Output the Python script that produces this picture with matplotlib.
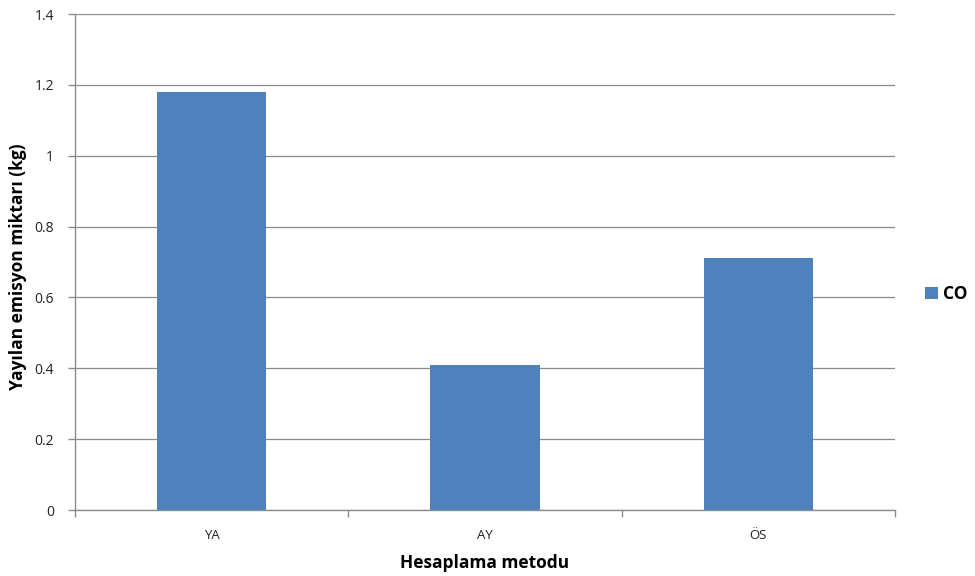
import matplotlib
matplotlib.use("Agg")
import matplotlib.pyplot as plt
import numpy as np

categories = ["YA", "AY", "ÖS"]
co_values = [1.18, 0.41, 0.71]
y_ticks = [0, 0.2, 0.4, 0.6, 0.8, 1, 1.2, 1.4]
y_tick_labels = ["0", "0.2", "0.4", "0.6", "0.8", "1", "1.2", "1.4"]

plt.rcParams["font.family"] = ["Open Sans", "DejaVu Sans"]

fig = plt.figure(figsize=(9.75, 5.76), dpi=100)
ax = fig.add_axes([75 / 975, 66 / 576, 820 / 975, 496 / 576])

x = np.arange(len(categories))
bars = ax.bar(x, co_values, width=0.4, color="#4F81BD", zorder=3, label="CO")

ax.set_xlim(-0.5, len(categories) - 0.5)
ax.set_ylim(0, 1.4)

ax.set_yticks(y_ticks)
ax.set_yticklabels(y_tick_labels, fontsize=10, color="#222222")
ax.yaxis.grid(True, color="#8c8c8c", linewidth=0.9, zorder=0)

# category labels centred under bars, tick marks at category boundaries
ax.set_xticks(x)
ax.set_xticklabels(categories, fontsize=9.5, color="#222222")
ax.tick_params(axis="x", length=0, pad=14)
ax.set_xticks(np.arange(-0.5, len(categories)), minor=True)
ax.tick_params(axis="x", which="minor", length=5, color="#8c8c8c", width=1)
ax.tick_params(axis="y", length=5, color="#8c8c8c", width=1, pad=10)

for side in ["top", "right"]:
    ax.spines[side].set_visible(False)
for side in ["left", "bottom"]:
    ax.spines[side].set_color("#8c8c8c")
    ax.spines[side].set_linewidth(1)

ax.set_xlabel("Hesaplama metodu", fontsize=12.5, fontweight="bold", labelpad=8)
ax.set_ylabel("Yayılan emisyon miktarı (kg)", fontsize=12.5, fontweight="bold")
ax.yaxis.set_label_coords(-0.058, 0.49)

ax.legend(loc="center left", bbox_to_anchor=(1.018, 0.435), frameon=False,
          handlelength=0.7, handleheight=0.7, handletextpad=0.3,
          prop={"size": 12.5, "weight": "bold"})

fig.savefig("out.png", dpi=100, facecolor="white")
